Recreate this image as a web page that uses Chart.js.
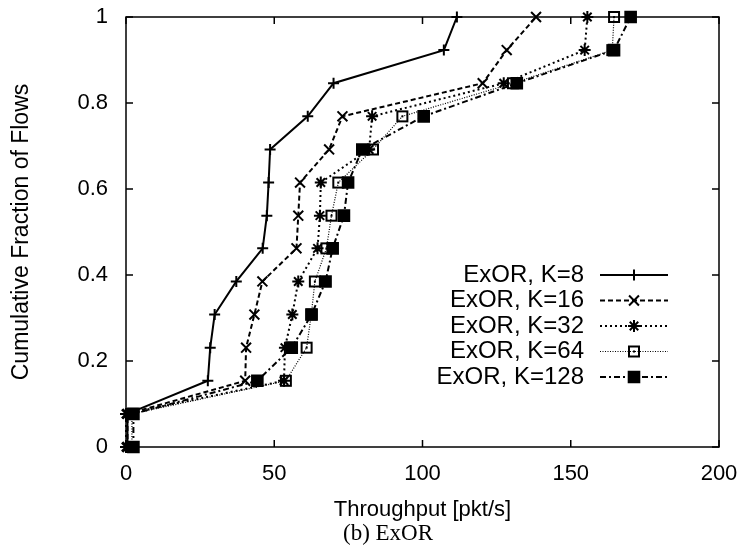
<!DOCTYPE html>
<html>
<head>
<meta charset="utf-8">
<script src="https://cdn.jsdelivr.net/npm/chart.js@4/dist/chart.umd.min.js"></script>
<style>
  body { margin: 0; background: #fff; }
  canvas { display: block; }
</style>
</head>
<body>
<canvas id="cdfChart" width="748" height="554"></canvas>
<script>
// cumulative fraction of flows (13 flows)
const fractions = [0, 0.077, 0.154, 0.231, 0.308, 0.385, 0.462, 0.538, 0.615, 0.692, 0.769, 0.846, 0.923, 1];

// throughput [pkt/s] for each K
const k8 = [0.5, 0.5, 27.6, 28.4, 29.9, 37.2, 46.1, 47.5, 48.1, 48.6, 61.3, 70.0, 107.2, 111.6];
const k16 = [0.5, 0.5, 40.2, 40.5, 43.3, 46.0, 57.5, 58.1, 58.7, 68.5, 73.0, 120.3, 128.4, 138.3];
const k32 = [0, 0, 53.3, 53.6, 56.1, 58.1, 64.6, 65.4, 65.7, 82.0, 83.0, 127.4, 154.7, 155.6];
const k64 = [2, 2, 53.9, 60.9, 62.5, 63.7, 67.6, 69.3, 71.6, 83.3, 93.2, 130.5, 164.0, 164.6];
const k128 = [2.5, 2.5, 44.3, 55.9, 62.6, 67.3, 69.7, 73.5, 74.9, 79.7, 100.4, 131.8, 164.6, 170.2];

const labels = ['ExOR, K=8', 'ExOR, K=16', 'ExOR, K=32', 'ExOR, K=64', 'ExOR, K=128'];
const xTicks = [0, 50, 100, 150, 200];
const yTicks = [0, 0.2, 0.4, 0.6, 0.8, 1];

const sans = '"Liberation Sans", Arial, Helvetica, sans-serif';

// open square with a dot in the middle (gnuplot style)
function openSquare() {
  const c = document.createElement('canvas');
  c.width = 14; c.height = 14;
  const g = c.getContext('2d');
  g.strokeStyle = '#000';
  g.lineWidth = 2;
  g.strokeRect(2, 2, 10, 10);
  g.fillStyle = '#000';
  g.fillRect(6, 6, 2, 2);
  return c;
}

function toPoints(xs) {
  return xs.map((x, i) => ({ x: x, y: fractions[i] }));
}

const styles = [
  { data: k8, dash: [], width: 2, point: 'cross', radius: 5.5, fill: false },
  { data: k16, dash: [5, 3], width: 2, point: 'crossRot', radius: 7, fill: false },
  { data: k32, dash: [2, 3], width: 2, point: 'star', radius: 6, fill: false },
  { data: k64, dash: [1, 1.5], width: 1.2, point: openSquare(), radius: 7, fill: false },
  { data: k128, dash: [6, 3, 2, 3], width: 2, point: 'rect', radius: 7.5, fill: true }
];

const datasets = styles.map((s, i) => ({
  label: labels[i],
  data: toPoints(s.data),
  showLine: true,
  borderColor: '#000',
  backgroundColor: s.fill ? '#000' : 'rgba(0,0,0,0)',
  borderWidth: s.width,
  borderDash: s.dash,
  pointStyle: s.point,
  pointRadius: s.radius,
  pointBorderWidth: 2,
  pointBorderColor: '#000',
  pointBackgroundColor: s.fill ? '#000' : 'rgba(0,0,0,0)',
  tension: 0,
  clip: false
}));

// box + inward ticks on all four sides
const frame = {
  id: 'frame',
  afterDraw(chart) {
    const { ctx, chartArea: a, scales } = chart;
    ctx.save();
    ctx.strokeStyle = '#000';
    ctx.lineWidth = 1.5;
    ctx.setLineDash([]);
    ctx.strokeRect(a.left, a.top, a.right - a.left, a.bottom - a.top);
    const tl = 7;
    ctx.beginPath();
    xTicks.forEach(v => {
      const px = scales.x.getPixelForValue(v);
      ctx.moveTo(px, a.bottom); ctx.lineTo(px, a.bottom - tl);
      ctx.moveTo(px, a.top); ctx.lineTo(px, a.top + tl);
    });
    yTicks.forEach(v => {
      const py = scales.y.getPixelForValue(v);
      ctx.moveTo(a.left, py); ctx.lineTo(a.left + tl, py);
      ctx.moveTo(a.right, py); ctx.lineTo(a.right - tl, py);
    });
    ctx.stroke();
    ctx.restore();
  }
};

// gnuplot-like key: text on the left, line sample with marker on the right
const key = {
  id: 'key',
  afterDraw(chart) {
    const { ctx } = chart;
    ctx.save();
    chart.data.datasets.forEach((ds, i) => {
      const y = 275 + i * 25.5;
      ctx.fillStyle = '#000';
      ctx.font = '24px ' + sans;
      ctx.textAlign = 'right';
      ctx.textBaseline = 'middle';
      ctx.fillText(ds.label, 584, y);
      ctx.strokeStyle = '#000';
      ctx.lineWidth = ds.borderWidth;
      ctx.setLineDash(ds.borderDash);
      ctx.beginPath();
      ctx.moveTo(600, y); ctx.lineTo(668, y);
      ctx.stroke();
      ctx.setLineDash([]);
      ctx.lineWidth = ds.pointBorderWidth;
      ctx.fillStyle = ds.pointBackgroundColor;
      if (Chart.helpers && Chart.helpers.drawPoint) {
        Chart.helpers.drawPoint(ctx, {
          pointStyle: ds.pointStyle, radius: ds.pointRadius, rotation: 0, borderWidth: ds.pointBorderWidth
        }, 634, y);
      }
    });
    ctx.restore();
  }
};

// sub-figure caption
const caption = {
  id: 'caption',
  afterDraw(chart) {
    const { ctx } = chart;
    ctx.save();
    ctx.fillStyle = '#000';
    ctx.font = '23px "Liberation Serif", "DejaVu Serif", serif';
    ctx.textAlign = 'left';
    ctx.textBaseline = 'alphabetic';
    ctx.fillText('(b) ExOR', 343, 540);
    ctx.restore();
  }
};

new Chart(document.getElementById('cdfChart'), {
  type: 'scatter',
  data: { datasets },
  options: {
    responsive: false,
    animation: false,
    layout: { autoPadding: false, padding: { top: 17, right: 29, bottom: 29, left: 0 } },
    plugins: {
      legend: { display: false },
      tooltip: { enabled: false }
    },
    scales: {
      x: {
        type: 'linear',
        min: 0,
        max: 200,
        afterBuildTicks: s => { s.ticks = xTicks.map(v => ({ value: v })); },
        afterFit: s => { s.height = 78; },
        // invisible tick marks only reserve the gap under the axis
        grid: { drawOnChartArea: false, drawTicks: true, tickLength: 14, color: 'rgba(0,0,0,0)' },
        border: { display: false },
        ticks: { color: '#000', padding: 0, font: { family: sans, size: 22 } },
        title: {
          display: true,
          text: 'Throughput [pkt/s]',
          color: '#000',
          padding: { top: 0, bottom: 2 },
          font: { family: sans, size: 22 }
        }
      },
      y: {
        type: 'linear',
        min: 0,
        max: 1,
        afterBuildTicks: s => { s.ticks = yTicks.map(v => ({ value: v })); },
        afterFit: s => { s.width = 126; },
        grid: { drawOnChartArea: false, drawTicks: true, tickLength: 18, color: 'rgba(0,0,0,0)' },
        border: { display: false },
        ticks: {
          color: '#000',
          padding: 0,
          font: { family: sans, size: 22 },
          callback: v => String(Math.round(v * 10) / 10)
        },
        title: {
          display: true,
          text: 'Cumulative Fraction of Flows',
          color: '#000',
          padding: { top: 8, bottom: 0 },
          font: { family: sans, size: 23 }
        }
      }
    }
  },
  plugins: [frame, key, caption]
});
</script>
</body>
</html>
